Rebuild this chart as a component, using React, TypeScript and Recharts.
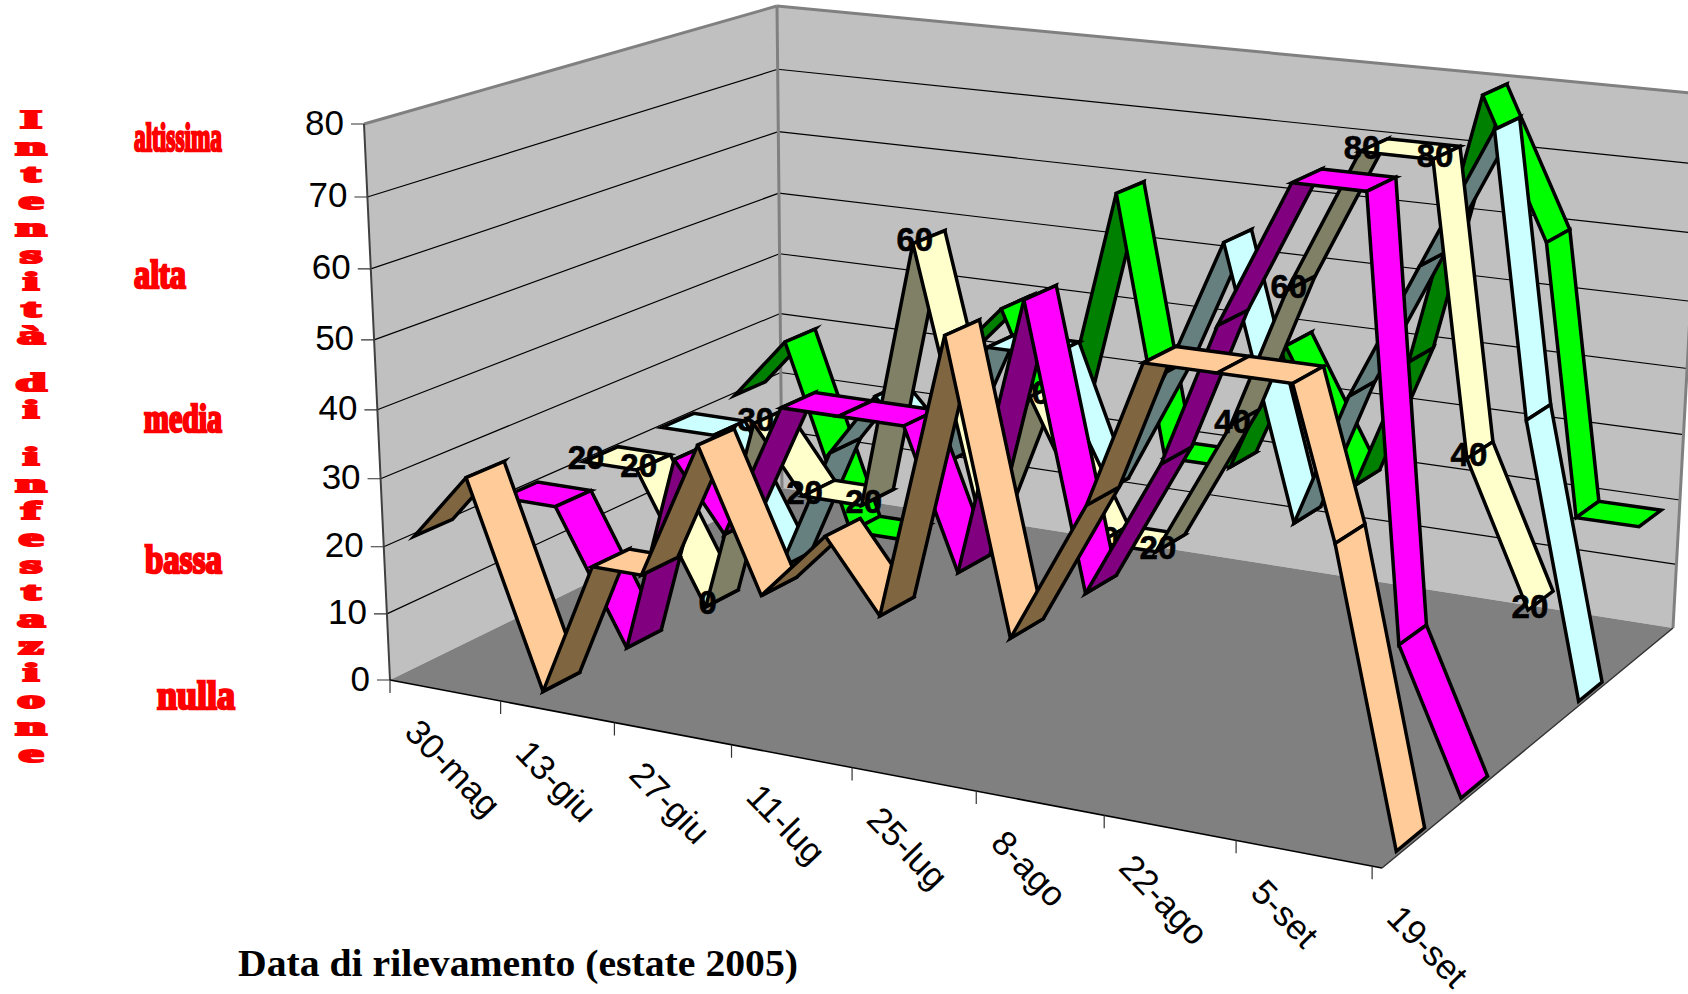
import React from 'react';
import { ScatterChart, Scatter, XAxis, YAxis } from 'recharts';

const WIDTH = 1688;
const HEIGHT = 994;

// ---- data ----
const surveyDays = [0.6, 7.6, 16.2, 23, 29, 36.4, 43.3, 51, 57, 65, 71.6, 80, 86, 93.5, 101, 105.5, 112.5];
const dateLabels = ['30-mag', '13-giu', '27-giu', '11-lug', '25-lug', '8-ago', '22-ago', '5-set', '19-set'];
const dateLabelDays = [0, 14, 28, 42, 56, 70, 84, 98, 112];
const valueTicks = [0, 10, 20, 30, 40, 50, 60, 70, 80];

const seriesA = [20, 30, 0, 20, 20, 40, 20, 30, 20, 60, 20, 40, 60, 60, 60, 40, 0];
const seriesB = [20, 20, 0, 30, 20, 40, 40, 40, 20, 60, 20, 40, 60, 80, 80, 20, 0];
const seriesC = [20, 20, 0, 30, 20, 20, 60, 20, 40, 20, 20, 40, 60, 80, 80, 40, 20];
const seriesD = [20, 20, 0, 20, 30, 20, 40, 40, 20, 40, 60, 20, 40, 60, 80, 40, 0];
const seriesE = [20, 30, 0, 0, 30, 40, 20, 60, 20, 20, 40, 20, 40, 80, 60, 20, 20];

const intensityLabels = ['altissima', 'alta', 'media', 'bassa', 'nulla'];
const yTitle = 'Intensità di infestazione';
const xTitle = 'Data di rilevamento (estate 2005)';

// ---- projection of the 3D box on to the page ----
type P = { x: number; y: number };
const homography = (a: P, b: P, c: P, d: P) => {
  const dx1 = b.x - c.x, dx2 = d.x - c.x, sx = a.x - b.x + c.x - d.x;
  const dy1 = b.y - c.y, dy2 = d.y - c.y, sy = a.y - b.y + c.y - d.y;
  const den = dx1 * dy2 - dx2 * dy1;
  const g = (sx * dy2 - dx2 * sy) / den;
  const h = (dx1 * sy - sx * dy1) / den;
  const m = [b.x - a.x + g * b.x, d.x - a.x + h * d.x, a.x, b.y - a.y + g * b.y, d.y - a.y + h * d.y, a.y];
  return (u: number, v: number): P => {
    const w = g * u + h * v + 1;
    return { x: (m[0] * u + m[1] * v + m[2]) / w, y: (m[3] * u + m[4] * v + m[5]) / w };
  };
};
const floorMap = homography({ x: 390, y: 680 }, { x: 1382, y: 868 }, { x: 1673, y: 628 }, { x: 782, y: 488 });
const topMap = homography({ x: 364, y: 124 }, { x: 1402, y: 252 }, { x: 1702, y: 94 }, { x: 777, y: 6 });
const MAX_DAY = 113;
const MAX_VALUE = 80;
const project = (day: number, depth: number, value: number): P => {
  const t = day / MAX_DAY;
  const f = floorMap(t, depth);
  const top = topMap(t, depth);
  const u = value / MAX_VALUE;
  const k = u / (1 + 0.0576 * (1 - u));
  return { x: f.x + (top.x - f.x) * k, y: f.y + (top.y - f.y) * k };
};

// A row for a Scatter: anchored through the axes at its first corner, the rest relative.
const polyRow = (pts: P[], style: Record<string, unknown>) => ({
  x: pts[0].x,
  y: pts[0].y,
  deltas: pts.map((p) => ({ dx: p.x - pts[0].x, dy: p.y - pts[0].y })),
  ...style,
});

const ribbon = (values: number[], seriesIndex: number, bright: string, dark: string) => {
  const centre = 0.1 + 0.2 * seriesIndex;
  const d0 = centre - 0.043;
  const d1 = centre + 0.043;
  const rows: ReturnType<typeof polyRow>[] = [];
  for (let i = 0; i < values.length - 1; i++) {
    const pts = [
      project(surveyDays[i], d0, values[i]),
      project(surveyDays[i], d1, values[i]),
      project(surveyDays[i + 1], d1, values[i + 1]),
      project(surveyDays[i + 1], d0, values[i + 1]),
    ];
    rows.push(polyRow(pts, { fill: values[i + 1] > values[i] ? dark : bright, stroke: '#000', sw: 3.5 }));
  }
  return rows;
};

const Poly = (props: any) => {
  const { cx, cy, payload } = props;
  const pts = payload.deltas.map((d: any) => `${cx + d.dx},${cy + d.dy}`).join(' ');
  return (
    <polygon
      points={pts}
      fill={payload.fill ?? 'none'}
      stroke={payload.stroke ?? 'none'}
      strokeWidth={payload.sw ?? 0}
      strokeLinejoin="miter"
      strokeMiterlimit={6}
    />
  );
};

const SANS = '"Liberation Sans", Arial, sans-serif';
const SERIF = '"Liberation Serif", "Times New Roman", serif';

const ValueText = (props: any) => (
  <text x={props.cx} y={props.cy} textAnchor="middle" dominantBaseline="central"
    fontFamily={SANS} fontWeight="bold" fontSize={33} fill="#000" stroke="#000" strokeWidth={0.6}>
    {props.payload.label}
  </text>
);
const YTickText = (props: any) => (
  <text x={props.cx} y={props.cy} textAnchor="end" dominantBaseline="central"
    fontFamily={SANS} fontSize={35} fill="#000">
    {props.payload.label}
  </text>
);
const XTickText = (props: any) => (
  <text x={props.cx} y={props.cy} textAnchor="start" dominantBaseline="central"
    transform={`rotate(46 ${props.cx} ${props.cy})`} fontFamily={SANS} fontSize={35} fill="#000">
    {props.payload.label}
  </text>
);
const RedText = (props: any) => (
  <text x={props.cx} y={props.cy} textAnchor="start" dominantBaseline="central"
    textLength={props.payload.len} lengthAdjust="spacingAndGlyphs"
    fontFamily={SERIF} fontWeight="bold" fontSize={40} fill="#ff0000" stroke="#ff0000" strokeWidth={2.6}>
    {props.payload.label}
  </text>
);
const TitleText = (props: any) => (
  <text x={props.cx} y={props.cy} textAnchor="start" dominantBaseline="central"
    textLength={560} lengthAdjust="spacingAndGlyphs"
    fontFamily={SERIF} fontWeight="bold" fontSize={38} fill="#000">
    {props.payload.label}
  </text>
);
const SQUASH = 0.85;
const StackedTitle = (props: any) => {
  let y = 0;
  const spans: React.ReactNode[] = [];
  Array.from(yTitle).forEach((ch, i) => {
    if (ch === ' ') {
      y += 20;
      return;
    }
    spans.push(<tspan key={i} x={0} y={y / SQUASH}>{ch}</tspan>);
    y += 27;
  });
  return (
    <g transform={`translate(${props.cx} ${props.cy}) scale(1.85 ${SQUASH})`}>
      <text textAnchor="middle" dominantBaseline="central" fontFamily={SERIF} fontWeight="bold"
        fontSize={30} fill="#ff0000" stroke="#ff0000" strokeWidth={2.6}>
        {spans}
      </text>
    </g>
  );
};

// ---- rows for the scene ----
const A0 = project(0, 0, 0), A8 = project(0, 0, 80);
const C0 = project(MAX_DAY, 1, 0), C8 = project(MAX_DAY, 1, 80);
const D0 = project(0, 1, 0), D8 = project(0, 1, 80);
const B0 = project(MAX_DAY, 0, 0);

const wallRows = [
  polyRow([A0, A8, D8, D0], { fill: '#c0c0c0' }),
  polyRow([D0, D8, C8, C0], { fill: '#c0c0c0' }),
  polyRow([A0, B0, C0, D0], { fill: '#808080' }),
];
const gridRows = valueTicks.slice(1).flatMap((v) => {
  const a = project(0, 0, v), d = project(0, 1, v), c = project(MAX_DAY, 1, v);
  const stroke = v === 80 ? '#808080' : '#000';
  const sw = v === 80 ? 3 : 1.2;
  return [polyRow([a, d], { stroke, sw }), polyRow([d, c], { stroke, sw })];
});
const edgeRows = [
  polyRow([D0, D8], { stroke: '#808080', sw: 3 }),
  polyRow([C0, C8], { stroke: '#808080', sw: 3 }),
  polyRow([A0, A8], { stroke: '#404040', sw: 2 }),
  polyRow([A0, B0], { stroke: '#000', sw: 1.5 }),
  polyRow([B0, C0], { stroke: '#333', sw: 1.5 }),
];
const tickRows = [
  ...valueTicks.map((v) => {
    const p = project(0, 0, v);
    return polyRow([p, { x: p.x - 13, y: p.y }], { stroke: '#333', sw: 1.2 });
  }),
  ...dateLabelDays.map((day) => {
    const p = project(day, 0, 0);
    return polyRow([p, { x: p.x, y: p.y + 13 }], { stroke: '#333', sw: 1.2 });
  }),
];
const yTickRows = valueTicks.map((v) => {
  const p = project(0, 0, v);
  return { x: p.x - 20, y: p.y - 2, label: String(v) };
});
const xTickRows = dateLabels.map((label, i) => {
  const p = project(dateLabelDays[i], 0, 0);
  return { x: p.x + 22, y: p.y + 45, label };
});
const valueRows = seriesC.map((v, i) => {
  const p = project(surveyDays[i], 0.457, v);
  return { x: p.x + 2, y: p.y - 4, label: String(v) };
});
const redAnchors = [
  { x: 134, y: 137, len: 88 },
  { x: 134, y: 274, len: 52 },
  { x: 144, y: 418, len: 78 },
  { x: 145, y: 559, len: 77 },
  { x: 157, y: 695, len: 78 },
];
const redRows = intensityLabels.map((label, i) => ({ ...redAnchors[i], label }));

const ribbons = [
  { key: 'E', rows: ribbon(seriesE, 4, '#00ff00', '#008000') },
  { key: 'D', rows: ribbon(seriesD, 3, '#ccffff', '#668080') },
  { key: 'C', rows: ribbon(seriesC, 2, '#ffffcc', '#808066') },
  { key: 'B', rows: ribbon(seriesB, 1, '#ff00ff', '#800080') },
  { key: 'A', rows: ribbon(seriesA, 0, '#ffcc99', '#806640') },
];

export default function App() {
  return (
    <div style={{ position: 'absolute', left: 0, top: 0, width: WIDTH, height: HEIGHT, background: '#fff' }}>
      <ScatterChart width={WIDTH} height={HEIGHT} margin={{ top: 0, right: 0, bottom: 0, left: 0 }}>
        <XAxis type="number" dataKey="x" domain={[0, WIDTH]} hide />
        <YAxis type="number" dataKey="y" domain={[0, HEIGHT]} reversed hide />
        <Scatter data={wallRows} shape={Poly} isAnimationActive={false} />
        <Scatter data={gridRows} shape={Poly} isAnimationActive={false} />
        <Scatter data={edgeRows} shape={Poly} isAnimationActive={false} />
        <Scatter data={tickRows} shape={Poly} isAnimationActive={false} />
        <Scatter data={yTickRows} shape={YTickText} isAnimationActive={false} />
        <Scatter data={xTickRows} shape={XTickText} isAnimationActive={false} />
        {ribbons.slice(0, 3).map((r) => (
          <Scatter key={r.key} name={r.key} data={r.rows} shape={Poly} isAnimationActive={false} />
        ))}
        <Scatter data={valueRows} shape={ValueText} isAnimationActive={false} />
        {ribbons.slice(3).map((r) => (
          <Scatter key={r.key} name={r.key} data={r.rows} shape={Poly} isAnimationActive={false} />
        ))}
        <Scatter data={redRows} shape={RedText} isAnimationActive={false} />
        <Scatter data={[{ x: 31, y: 119 }]} shape={StackedTitle} isAnimationActive={false} />
        <Scatter data={[{ x: 238, y: 963, label: xTitle }]} shape={TitleText} isAnimationActive={false} />
      </ScatterChart>
    </div>
  );
}
